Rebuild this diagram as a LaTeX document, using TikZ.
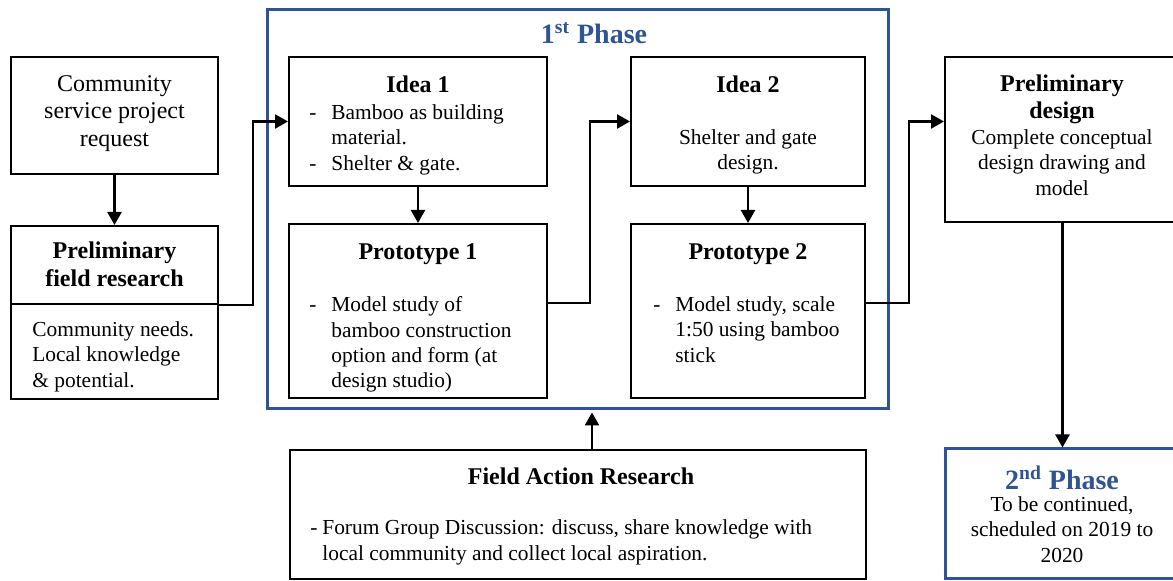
\documentclass[tikz,border=0pt]{standalone}
\usepackage{fontspec}
\setmainfont{Liberation Serif}
\usetikzlibrary{arrows.meta,fit}
\definecolor{phaseblue}{HTML}{2F5496}
\newcommand{\dashmark}[1][11pt]{\makebox[#1][l]{-}}
\begin{document}
\begin{tikzpicture}[x=0.5pt,y=-0.5pt,
  box/.style={draw=black, line width=1pt, inner sep=0pt},
  bluebox/.style={draw=phaseblue, line width=1.5pt, inner sep=0pt},
  arr/.style={line width=1.2pt, -{Triangle[length=6.5pt,width=7pt]}},
  txt/.style={inner sep=0pt, font=\fontsize{10.7}{12.7}\selectfont,
    execute at begin node=\strut, execute at end node=\strut},
  bigtxt/.style={txt, font=\fontsize{12}{13.75}\selectfont},
  btxt/.style={txt, font=\fontsize{12}{13.75}\selectfont\bfseries},
  ttl/.style={inner sep=0pt, text=phaseblue, font=\fontsize{14}{16}\selectfont\bfseries}
]
\clip (0,0) rectangle (1173,581);
% boxes
\node[box, fit={(11,57)(218,174)}] (comm) {};
\node[box, fit={(11,226)(218,304)}] (pfrtop) {};
\node[box, fit={(11,304)(218,399)}] (pfrbot) {};
\node[bluebox, fit={(267,10)(888,409)}] (phase1) {};
\node[box, fit={(289,57)(547,186)}] (idea1) {};
\node[box, fit={(289,224)(547,398)}] (proto1) {};
\node[box, fit={(631,57)(865,186)}] (idea2) {};
\node[box, fit={(631,224)(865,398)}] (proto2) {};
\node[box, fit={(945,57)(1180,222)}] (pdes) {};
\node[bluebox, fit={(945,449)(1180,579)}] (ph2) {};
\node[box, fit={(290,450)(866,579)}] (far) {};
% texts
\node[bigtxt, align=center] (tcomm) at (114.5,114.7) {Community\\service project\\request};
\node[btxt, align=center] (tpfr) at (114.5,268.5) {Preliminary\\field research};
\node[txt, align=left, anchor=west] (tpfrb) at (32,358) {Community needs.\\Local knowledge\\\& potential.};
\node[ttl] (tph1) at (594,33) {1\textsuperscript{st} Phase};
\node[btxt] (tidea1) at (418,87) {Idea 1};
\node[txt, align=left, anchor=west] (lidea1) at (309,141) {\dashmark Bamboo as building\\\hspace*{11pt}material.\\\dashmark Shelter \& gate.};
\node[btxt] (tproto1) at (418,254) {Prototype 1};
\node[txt, align=left, anchor=west] (lproto1) at (309,346) {\dashmark Model study of\\\hspace*{11pt}bamboo construction\\\hspace*{11pt}option and form (at\\\hspace*{11pt}design studio)};
\node[btxt] (tidea2) at (748,87) {Idea 2};
\node[txt, align=center] (lidea2) at (748,153.5) {Shelter and gate\\design.};
\node[btxt] (tproto2) at (748,254) {Prototype 2};
\node[txt, align=left, anchor=west] (lproto2) at (653,333) {\dashmark Model study, scale\\\hspace*{11pt}1:50 using bamboo\\\hspace*{11pt}stick};
\node[btxt, align=center] (tpdes) at (1062,101) {Preliminary\\design};
\node[txt, align=center] (lpdes) at (1062,166) {Complete conceptual\\design drawing and\\model};
\node[btxt] (tfar) at (581,479) {Field Action Research};
\node[txt, align=left, anchor=west] (lfar) at (310,544) {\dashmark[6pt]Forum Group Discussion: discuss, share knowledge with\\\hspace*{6pt}local community and collect local aspiration.};
\node[ttl] (tph2) at (1062,478) {2\textsuperscript{nd} Phase};
\node[txt, align=center] (lph2) at (1062,533) {To be continued,\\scheduled on 2019 to\\2020};
% connectors
\draw[arr] (comm.south) -- (pfrtop.north);
\draw[arr] (pfrtop.south east) -- ++(34,0) |- (idea1.west);
\draw[arr] (idea1.south) -- (proto1.north);
\draw[arr] ([yshift=4pt]proto1.east) -- ++(42,0) |- (idea2.west);
\draw[arr] (idea2.south) -- (proto2.north);
\draw[arr] ([yshift=4pt]proto2.east) -- ++(43,0) |- ([yshift=9pt]pdes.west);
\draw[arr] (pdes.south) -- (ph2.north);
\draw[arr, shorten >=1pt] ([xshift=7pt]far.north) -- ([xshift=7pt]far.north |- phase1.south);
\end{tikzpicture}
\end{document}
